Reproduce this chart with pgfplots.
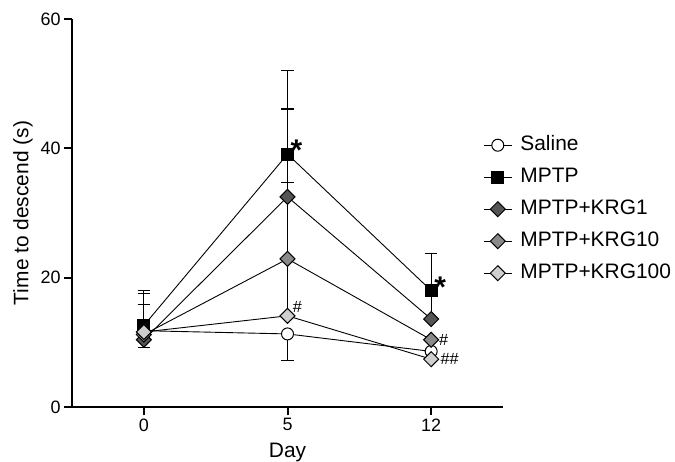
\documentclass[border=0pt]{standalone}
\usepackage{pgfplots}
\pgfplotsset{compat=1.18}
\usepackage{fontspec}
\setmainfont{Liberation Sans}
\definecolor{krgA}{HTML}{555555}
\definecolor{krgB}{HTML}{8A8A8A}
\definecolor{krgC}{HTML}{CFCFCF}
\begin{document}
\begin{tikzpicture}
\useasboundingbox (-72bp,-55bp) rectangle (603bp,407bp);
\begin{axis}[
  at={(0,0)}, anchor=south west,
  scale only axis, width=431bp, height=388bp,
  xmin=-0.5, xmax=2.5, ymin=0, ymax=60,
  axis lines=left,
  axis line style={-, line width=2.5bp, black},
  tick align=outside, major tick length=8bp,
  tick style={line width=2bp, black},
  xtick={0,1,2}, xticklabels={0,5,12},
  ytick={0,20,40,60},
  /pgf/number format/assume math mode=true,
  ticklabel style={font=\fontsize{18}{20}\selectfont},
  xlabel={Day}, ylabel={Time to descend (s)},
  label style={font=\fontsize{21}{24}\selectfont},
  xlabel style={at={(axis description cs:0.5,-0.131)}, anchor=base},
  ylabel style={at={(axis description cs:-0.101,0.5)}, anchor=base},
  error bars/error bar style={line width=1.3bp, black},
  error bars/error mark options={rotate=90, mark size=6.3bp, line width=1.3bp, black},
  legend cell align=left,
  legend image code/.code={\draw[#1, mark=none, line width=1.2bp] (0bp,0bp) -- (28bp,0bp);
     \draw[#1, only marks] plot coordinates {(14bp,0bp)};},
  legend style={draw=none, fill=none, inner sep=0pt,
    at={(0.9536,0.6997)}, anchor=north west,
    font=\fontsize{21}{25}\selectfont, row sep=13bp,
    nodes={inner sep=0pt, text height=15bp, text depth=4bp},
    /tikz/every odd column/.append style={column sep=8bp}},
  clip=false,
]
\addplot[black, line width=0.9bp, mark=*, mark size=6bp, mark options={fill=white, draw=black, line width=1bp},
  error bars/.cd, y dir=minus, y explicit]
  coordinates {(0,11.8) -= (0,2.6) (1,11.3) -= (0,4.1) (2,8.6) -= (0,0)};
\addlegendentry{Saline}
\addplot[black, line width=0.9bp, mark=square*, mark size=6bp, mark options={fill=black, draw=black, line width=1bp},
  error bars/.cd, y dir=plus, y explicit]
  coordinates {(0,12.6) += (0,5.4) (1,39.1) += (0,12.9) (2,18.0) += (0,5.7)};
\addlegendentry{MPTP}
\addplot[black, line width=0.9bp, mark=square*, mark size=5.3bp, mark options={rotate=45, fill=krgA, draw=black, line width=1bp},
  error bars/.cd, y dir=plus, y explicit]
  coordinates {(0,10.4) += (0,7.1) (1,32.5) += (0,13.6) (2,13.6) += (0,4.4)};
\addlegendentry{MPTP+KRG1}
\addplot[black, line width=0.9bp, mark=square*, mark size=5.3bp, mark options={rotate=45, fill=krgB, draw=black, line width=1bp},
  error bars/.cd, y dir=plus, y explicit]
  coordinates {(0,11.2) += (0,4.7) (1,22.9) += (0,11.8) (2,10.4) += (0,0)};
\addlegendentry{MPTP+KRG10}
\addplot[black, line width=0.9bp, mark=square*, mark size=5.3bp, mark options={rotate=45, fill=krgC, draw=black, line width=1bp},
  error bars/.cd, y dir=plus, y explicit]
  coordinates {(0,11.6) += (0,0) (1,14.1) += (0,8.8) (2,7.4) += (0,0)};
\addlegendentry{MPTP+KRG100}
\node[anchor=base, font=\fontsize{30}{30}\selectfont\bfseries, inner sep=0pt] at (axis cs:1.063,38.1) {*};
\node[anchor=base, font=\fontsize{30}{30}\selectfont\bfseries, inner sep=0pt] at (axis cs:2.063,16.9) {*};
\node[anchor=base, font=\fontsize{16.3}{18}\selectfont, inner sep=0pt] at (axis cs:1.068,14.6) {\#};
\node[anchor=base, font=\fontsize{16.3}{18}\selectfont, inner sep=0pt] at (axis cs:2.086,9.5) {\#};
\node[anchor=base, font=\fontsize{16.3}{18}\selectfont, inner sep=0pt] at (axis cs:2.128,6.5) {\#\#};
\end{axis}
\end{tikzpicture}
\end{document}
